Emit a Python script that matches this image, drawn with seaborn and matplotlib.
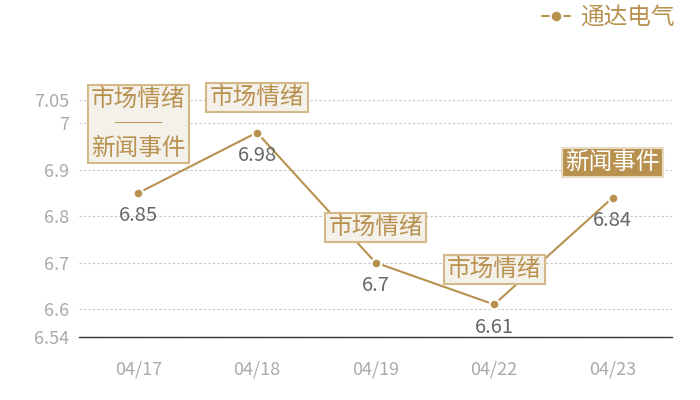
import matplotlib
matplotlib.use('Agg')
import matplotlib.pyplot as plt
import pandas as pd
import seaborn as sns

# --- data ---
dates = ['04/17', '04/18', '04/19', '04/22', '04/23']
prices = [6.85, 6.98, 6.7, 6.61, 6.84]
tags = ['市场情绪\n\u2500\u2500\n新闻事件', '市场情绪', '市场情绪', '市场情绪', '新闻事件']
series_name = '通达电气'
y_ticks = [6.54, 6.6, 6.7, 6.8, 6.9, 7, 7.05]
y_tick_labels = ['6.54', '6.6', '6.7', '6.8', '6.9', '7', '7.05']

gold = '#b8914f'

sns.set_style('white')
plt.rcParams['font.family'] = ['Noto Sans CJK SC', 'DejaVu Sans']

df = pd.DataFrame({'date': dates, 'price': prices})

fig = plt.figure(figsize=(7, 4), dpi=100)
ax = fig.add_axes([0.113, 0.1575, 0.847, 0.5925])

sns.lineplot(data=df, x='date', y='price', ax=ax, color=gold, linewidth=1.5,
             marker='o', markersize=7, markeredgecolor='white', markeredgewidth=1.5,
             label=series_name)

ax.set_xlim(-0.5, len(dates) - 0.5)
ax.set_ylim(y_ticks[0], y_ticks[-1])
ax.set_yticks(y_ticks)
ax.set_yticklabels(y_tick_labels)
ax.set_xlabel('')
ax.set_ylabel('')
ax.tick_params(axis='y', length=0, pad=7, labelsize=13, labelcolor='#aaaaaa')
ax.tick_params(axis='x', length=0, pad=17, labelsize=13, labelcolor='#aaaaaa')

ax.grid(axis='y', linestyle=(0, (2, 2)), color='#c4c4c4', linewidth=0.8)
ax.grid(axis='x', visible=False)
for side in ['top', 'right', 'left']:
    ax.spines[side].set_visible(False)
ax.spines['bottom'].set_color('#333333')
ax.spines['bottom'].set_linewidth(1)

# value labels under each point
for i, v in enumerate(prices):
    ax.annotate(f'{v:g}', (i, v), xytext=(0, -23), textcoords='offset pixels',
                ha='center', va='center', fontsize=14.5, color='#666666')

# tag boxes above each point
for i, (v, tag) in enumerate(zip(prices, tags)):
    n_lines = tag.count('\n') + 1
    dy = 35 + (n_lines - 1) * 17
    if tag == '新闻事件':
        fc, ec, tc = gold, '#e8dcc6', 'white'
    else:
        fc, ec, tc = '#f4f0ea', '#d4b888', gold
    ax.annotate(tag, (i, v), xytext=(0, dy), textcoords='offset pixels',
                ha='center', va='center', fontsize=17, color=tc,
                linespacing=1.08, multialignment='center',
                bbox=dict(boxstyle='square,pad=0.14', fc=fc, ec=ec, lw=1.5))

leg = ax.legend(loc='upper right', bbox_to_anchor=(0.987, 1.025), bbox_transform=fig.transFigure,
                frameon=False, fontsize=17, handlelength=1.2, handletextpad=0.4,
                markerscale=1.2, borderaxespad=0.3)
for t in leg.get_texts():
    t.set_color(gold)

fig.savefig('out.png', dpi=100)
